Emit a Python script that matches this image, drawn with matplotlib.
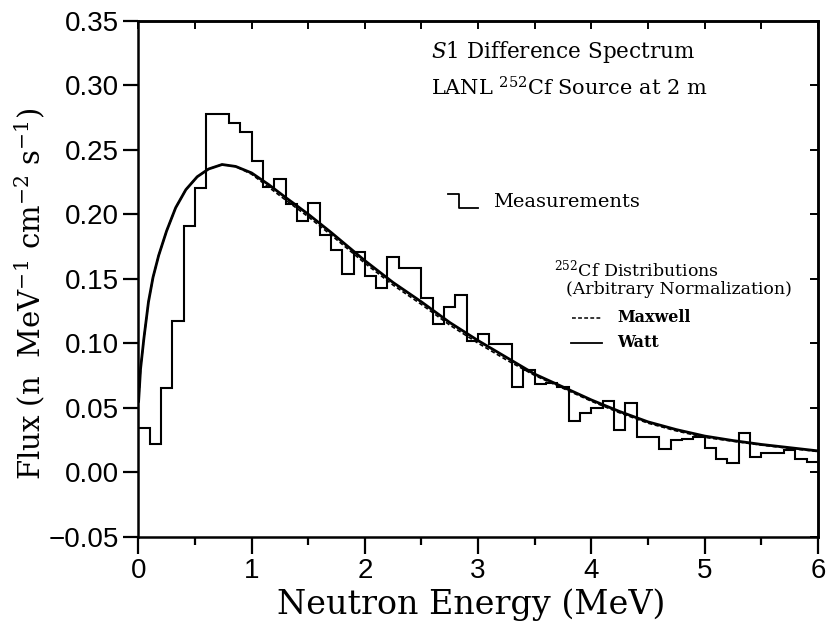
import numpy as np
import matplotlib
matplotlib.use("Agg")
import matplotlib.pyplot as plt

# ---------------- data ----------------
bin_edges = np.round(np.linspace(0.0, 6.0, 61), 2)
flux_measured = [
    0.034, 0.022, 0.065, 0.117, 0.191, 0.220, 0.278, 0.278, 0.271, 0.264,
    0.241, 0.221, 0.227, 0.208, 0.195, 0.209, 0.184, 0.172, 0.154, 0.171,
    0.152, 0.143, 0.167, 0.158, 0.158, 0.135, 0.1145, 0.128, 0.137, 0.102,
    0.107, 0.0995, 0.0995, 0.066, 0.079, 0.068, 0.069, 0.066, 0.040, 0.046,
    0.050, 0.055, 0.033, 0.054, 0.027, 0.027, 0.018, 0.025, 0.026, 0.027,
    0.019, 0.010, 0.007, 0.030, 0.012, 0.0145, 0.0145, 0.0175, 0.010, 0.008,
]

curve_energy = [0.003, 0.02, 0.05, 0.09, 0.13, 0.18, 0.25, 0.33, 0.42, 0.52,
                0.62, 0.74, 0.86, 1.0, 1.15, 1.3, 1.5, 1.7, 2.0, 2.25,
                2.5, 2.75, 3.0, 3.25, 3.5, 3.75, 4.0, 4.25, 4.5, 4.75,
                5.0, 5.25, 5.5, 5.75, 6.0]
watt_flux = [0.055, 0.080, 0.104, 0.132, 0.151, 0.168, 0.187, 0.205, 0.219, 0.229,
             0.235, 0.2385, 0.237, 0.232, 0.223, 0.213, 0.200, 0.186, 0.164, 0.147,
             0.132, 0.116, 0.102, 0.089, 0.076, 0.066, 0.056, 0.047, 0.039, 0.033,
             0.028, 0.0245, 0.0215, 0.019, 0.0165]
maxwell_flux = [0.055, 0.080, 0.104, 0.132, 0.151, 0.168, 0.187, 0.205, 0.219, 0.229,
                0.235, 0.2385, 0.237, 0.231, 0.221, 0.211, 0.198, 0.184, 0.162, 0.145,
                0.130, 0.114, 0.100, 0.087, 0.075, 0.065, 0.055, 0.046, 0.038, 0.032,
                0.027, 0.024, 0.021, 0.0185, 0.016]

x_ticks = [0, 1, 2, 3, 4, 5, 6]
x_ticklabels = ["0", "1", "2", "3", "4", "5", "6"]
y_ticks = [-0.05, 0.0, 0.05, 0.10, 0.15, 0.20, 0.25, 0.30, 0.35]
y_ticklabels = ["\u22120.05", "0.00", "0.05", "0.10", "0.15", "0.20", "0.25", "0.30", "0.35"]

# ---------------- figure ----------------
plt.rcParams["font.family"] = ["DejaVu Serif"]
plt.rcParams["mathtext.fontset"] = "dejavuserif"

fig = plt.figure(figsize=(8.30, 6.38), dpi=100)
ax = fig.add_axes([0.1666, 0.1588, 0.8189, 0.8088])

ax.stairs(flux_measured, bin_edges, baseline=None, color="black", lw=1.5)
ax.plot(curve_energy, watt_flux, color="black", lw=2.0, solid_joinstyle="round")
ax.plot(curve_energy, maxwell_flux, color="black", lw=1.2, ls=(0, (2.5, 1.5)))

ax.set_xlim(0, 6)
ax.set_ylim(-0.05, 0.35)

for sp in ax.spines.values():
    sp.set_linewidth(1.8)

ax.set_xticks(x_ticks)
ax.set_xticklabels(x_ticklabels, family="Liberation Sans", fontsize=20)
ax.set_xticks(np.arange(0.5, 6, 1.0), minor=True)
ax.set_yticks(y_ticks)
ax.set_yticklabels(y_ticklabels, family="Liberation Sans", fontsize=20)
ax.tick_params(axis="x", which="major", direction="out", length=12, width=1.6, pad=3)
ax.tick_params(axis="x", which="minor", direction="out", length=6, width=1.6)
ax.tick_params(axis="y", which="major", direction="out", length=11, width=1.6, pad=3)

top = ax.secondary_xaxis("top")
top.set_xticks(np.arange(0, 6.01, 0.5))
top.tick_params(direction="in", length=6, width=1.4, labeltop=False)
top.spines["top"].set_linewidth(1.8)
right = ax.secondary_yaxis("right")
right.set_yticks(y_ticks)
right.tick_params(direction="in", length=6, width=1.4, labelright=False)
right.spines["right"].set_linewidth(1.8)

ax.set_xlabel("Neutron Energy (MeV)", fontsize=24)
ax.xaxis.set_label_coords(0.49, -0.1)
ax.set_ylabel(r"Flux (n  MeV$^{-1}$ cm$^{-2}$ s$^{-1}$)", fontsize=21)
ax.yaxis.set_label_coords(-0.135, 0.47)

# titles inside
ax.text(2.585, 0.326, r"$\mathit{S1}$ Difference Spectrum", fontsize=15.5, va="center", ha="left")
ax.text(2.585, 0.298, r"LANL $^{252}$Cf Source at 2 m", fontsize=15, va="center", ha="left")

# legend: measurements
ax.plot([2.731, 2.834, 2.834, 2.996], [0.2153, 0.2153, 0.205, 0.205], color="black", lw=1.3)
ax.text(3.128, 0.2093, "Measurements", fontsize=14, va="center", ha="left")

ax.text(3.671, 0.157, r"$^{252}$Cf Distributions", fontsize=12.5, va="center", ha="left")
ax.text(3.777, 0.1416, "(Arbitrary Normalization)", fontsize=12.5, va="center", ha="left")
ax.plot([3.83, 4.095], [0.1197, 0.1197], color="black", lw=1.1, ls=(0, (2.5, 1.5)))
ax.text(4.226, 0.1197, "Maxwell", fontsize=11.5, va="center", ha="left", fontweight="bold")
ax.plot([3.818, 4.097], [0.1003, 0.1003], color="black", lw=1.3)
ax.text(4.226, 0.1003, "Watt", fontsize=11.5, va="center", ha="left", fontweight="bold")

fig.savefig("out.png", dpi=100)
